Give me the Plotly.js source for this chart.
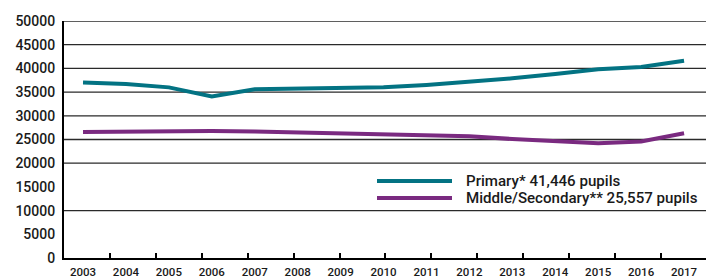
<!DOCTYPE html>
<html>
<head>
<meta charset="utf-8">
<script src="https://cdn.plot.ly/plotly-3.0.1.min.js"></script>
<style>html,body{margin:0;padding:0;background:#fff;}#chart{width:706px;height:279px;}</style>
</head>
<body>
<div id="chart"></div>
<script>
const years = [2003, 2004, 2005, 2006, 2007, 2008, 2009, 2010, 2011, 2012, 2013, 2014, 2015, 2016, 2017];
const primary = [37000, 36700, 36000, 34100, 35600, 35700, 35700, 36000, 36500, 37150, 37900, 38800, 39800, 40300, 41600];
const middleSecondary = [26600, 26700, 26700, 26800, 26700, 26500, 26200, 26000, 25900, 25700, 25100, 24600, 24200, 24600, 26300];
const seriesNames = ["Primary* 41,446 pupils", "Middle/Secondary** 25,557 pupils"];
const gridValues = [10000, 20000, 25000, 30000, 35000, 40000, 45000, 50000];
const yTicks = [0, 5000, 10000, 15000, 20000, 25000, 30000, 35000, 40000, 45000, 50000];
const xMarkTicks = [1, 2, 3, 4, 5, 6, 7, 8, 9, 10, 11, 12, 13];

const teal = '#037383';
const purple = '#7a2a80';
const font = {family: 'Roboto, "DejaVu Sans", sans-serif', color: '#1a1a1a', weight: 500};

const traces = [
  {x: years, y: primary, type: 'scatter', mode: 'lines', line: {color: teal, width: 4}, name: seriesNames[0], hoverinfo: 'skip'},
  {x: years, y: middleSecondary, type: 'scatter', mode: 'lines', line: {color: purple, width: 4}, name: seriesNames[1], hoverinfo: 'skip'},
  {x: [0], y: [0], xaxis: 'x2', yaxis: 'y', type: 'scatter', mode: 'none', showlegend: false, hoverinfo: 'skip'}
];

const shapes = gridValues.map(v => ({
  type: 'line', xref: 'paper', yref: 'y', x0: 0, x1: 1, y0: v, y1: v,
  line: {color: '#2a2a2a', width: 1.3}, layer: 'below'
}));
// legend sample lines
shapes.push({type: 'line', xref: 'paper', yref: 'paper', x0: (377-64)/642, x1: (452-64)/642, y0: (258-181)/237, y1: (258-181)/237, line: {color: teal, width: 4}});
shapes.push({type: 'line', xref: 'paper', yref: 'paper', x0: (377-64)/642, x1: (452-64)/642, y0: (258-198)/237, y1: (258-198)/237, line: {color: purple, width: 4}});

const annotations = seriesNames.map((t, i) => ({
  text: t, xref: 'paper', yref: 'paper', x: (464-64)/642, y: (258-(180.5+i*17))/237,
  xanchor: 'left', yanchor: 'middle', showarrow: false,
  font: {family: font.family, size: 15.1, color: '#1a1a1a', weight: 500}
}));

const layout = {
  width: 706, height: 279,
  margin: {l: 64, r: 0, t: 21, b: 21},
  paper_bgcolor: '#fff', plot_bgcolor: '#fff',
  showlegend: false,
  xaxis: {
    range: [2002.557, 2017.511], tickvals: years, ticktext: years.map(String),
    ticks: '', showgrid: false, zeroline: false, showline: true, linecolor: '#000', linewidth: 2,
    tickfont: {family: font.family, size: 11.5, color: '#1a1a1a', weight: 500}, ticklabelstandoff: 2
  },
  xaxis2: {
    overlaying: 'x', range: [0, 642/45.92], tickvals: xMarkTicks, showticklabels: false,
    ticks: 'inside', ticklen: 5, tickwidth: 2, tickcolor: '#000', showgrid: false, zeroline: false, showline: false, side: 'bottom'
  },
  yaxis: {
    range: [0, 50000], tickvals: yTicks, ticktext: yTicks.map(String), ticks: '', showgrid: false, zeroline: false,
    showline: true, linecolor: '#000', linewidth: 2,
    tickfont: {family: font.family, size: 14, color: '#1a1a1a', weight: 500}, ticklabelstandoff: 4
  },
  shapes: shapes,
  annotations: annotations
};

Plotly.newPlot('chart', traces, layout, {staticPlot: true, displayModeBar: false});
</script>
</body>
</html>
